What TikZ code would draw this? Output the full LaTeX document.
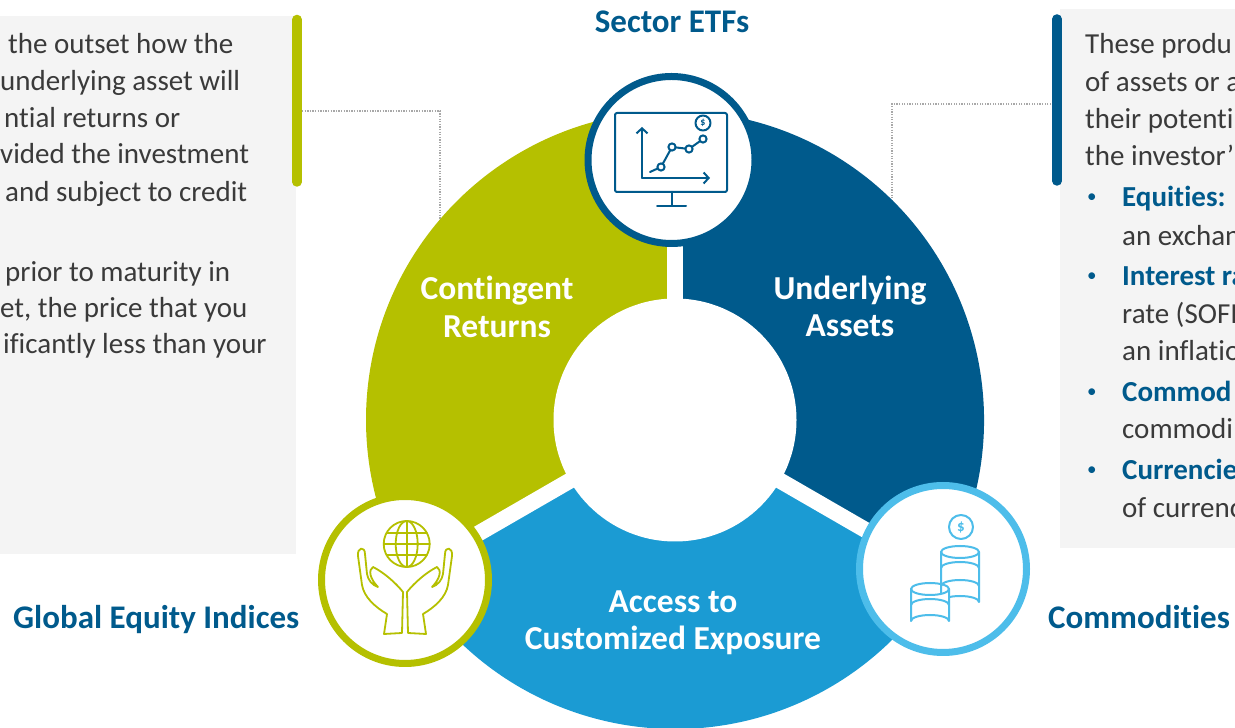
\documentclass[tikz,border=0pt]{standalone}
\usepackage{fontspec}
\setmainfont{Carlito}[Ligatures=NoCommon]
\usetikzlibrary{arrows.meta, positioning, calc}

\definecolor{ringGreen}{HTML}{B5C000}
\definecolor{ringNavy}{HTML}{005A8C}
\definecolor{ringBlue}{HTML}{1B9BD3}
\definecolor{coinBlue}{HTML}{4DBDEA}
\definecolor{boxGray}{HTML}{F4F4F4}
\definecolor{bodyGray}{HTML}{3A3A3A}
\definecolor{dotGray}{HTML}{A8A8A8}

\begin{document}
\begin{tikzpicture}[x=1pt, y=1pt,
    body/.style={anchor=base west, inner sep=0pt, text=bodyGray, font=\fontsize{29}{37}\selectfont},
    keyword/.style={body, text=ringNavy, font=\fontsize{29}{37}\selectfont\bfseries},
    seglabel/.style={anchor=base, inner sep=0pt, text=white, font=\fontsize{33.5}{40}\selectfont\bfseries},
    outlabel/.style={anchor=base, inner sep=0pt, text=ringNavy, font=\fontsize{33}{40}\selectfont\bfseries},
    badge/.style={circle, fill=white, line width=7pt, minimum size=167pt, inner sep=0pt},
    leader/.style={dotGray, line width=1.3pt, dash pattern=on 1.3pt off 1.3pt},
    sidebar/.style={line width=9.5pt, line cap=round},
    gap/.style={white, line width=16pt},
    glyph/.style={line width=2pt, line join=round, line cap=round}]

    \useasboundingbox (0,0) rectangle (1235,728);

    % side panels
    \fill[boxGray] (0,174) rectangle (296,712.3);
    \fill[boxGray] (1060,180) rectangle (1235,719);
    \draw[sidebar, ringGreen] (297,708.5) -- (297,546);
    \draw[sidebar, ringNavy] (1057,709) -- (1057,547);

    \foreach \y/\x/\t [count=\i] in {54/8/the outset how the, 91/0/underlying asset will,
        128/4/ntial returns or, 164/0/vided the investment, 202/5/and subject to credit,
        282/5/prior to maturity in, 318/0/{et, the price that you}, 354/3/ificantly less than your}
        \node[body] (lt\i) at (\x,{728-\y}) {\t};

    \foreach \y/\t [count=\i] in {54/These produ, 92/of assets or a, 129/their potenti, 166/the investor’}
        \node[body] (rt\i) at (1085,{728-\y}) {\t};
    \foreach \y/\t [count=\i] in {207/Equities:, 286/Interest ra, 402/Commod, 480/Currencie} {
        \node[body, text=ringNavy, font=\fontsize{19}{19}\selectfont] (dot\i) at (1087,{732-\y}) {•};
        \node[keyword] (kw\i) at (1122,{728-\y}) {\t};
    }
    \foreach \y/\t [count=\i] in {246/an exchan, 324/rate (SOFI, 361/an inflatio, 439/commodi, 518/of currenc}
        \node[body] (rc\i) at (1122,{728-\y}) {\t};

    % leaders
    \coordinate (lbar) at (302,617);
    \coordinate (lseg) at (440,508);
    \coordinate (rbar) at (1051,624);
    \coordinate (rseg) at (892,528);
    \draw[leader] (lbar) -| (lseg);
    \draw[leader] (rbar) -| (rseg);

    % ring
    \coordinate (hub) at (675,308);
    \fill[ringGreen] (hub) -- ++(90:309) arc[start angle=90, end angle=210, radius=309] -- cycle;
    \fill[ringNavy] (hub) -- ++(-30:309) arc[start angle=-30, end angle=90, radius=309] -- cycle;
    \fill[ringBlue] (hub) -- ++(210:309) arc[start angle=210, end angle=330, radius=309] -- cycle;
    \foreach \a in {90,210,330}
        \draw[gap] (hub) -- ++(\a:320);
    \fill[white] (hub) circle[radius=121.5];

    \node[seglabel] (cr1) at (497,428) {Contingent};
    \node[seglabel] (cr2) at (497,390) {Returns};
    \node[seglabel] (ua1) at (850,428) {Underlying};
    \node[seglabel] (ua2) at (850,391) {Assets};
    \node[seglabel] (ac1) at (673,115) {Access to};
    \node[seglabel] (ac2) at (673,78) {Customized Exposure};

    % badges
    \node[badge, draw=ringNavy] (etf) at (671.5,568) {};
    \node[badge, draw=ringGreen] (idx) at (405,148) {};
    \node[badge, draw=coinBlue] (cmd) at (943,159) {};

    \node[outlabel] (etflab) at (672,695) {Sector ETFs};
    \node[outlabel, anchor=base west] (idxlab) at (13,99) {Global Equity Indices};
    \node[outlabel, anchor=base west] (cmdlab) at (1048,99) {Commodities};

    % monitor
    \begin{scope}[shift={(etf.center)}, ringNavy, glyph]
        \draw[rounded corners=2pt] (-56.5,-32) rectangle (55.5,47);
        \draw (0.5,-32) -- (0.5,-45);
        \draw (-14.5,-46) -- (14.5,-46);
        \draw[-{Straight Barb[length=5pt, width=11pt]}] (-29.5,-18) -- (-29.5,33);
        \draw[-{Straight Barb[length=5pt, width=11pt]}] (-29.5,-18) -- (38.5,-18);
        \draw (-21.5,-12) -- (-10.5,-7) -- (0.5,13) -- (17.5,11) -- (31.5,21);
        \foreach \p in {(-10.5,-7), (0.5,13), (17.5,11), (31.5,21)}
            \draw[fill=white] \p circle[radius=3.6];
        \draw (31.5,37) circle[radius=7.5];
        \node[text=ringNavy, font=\fontsize{10}{10}\selectfont\bfseries] (etfcoin) at (31.5,37) {\$};
    \end{scope}

    % globe in hands
    \begin{scope}[shift={(idx.center)}, yscale=-1, ringGreen, glyph, line width=1.8pt]
        \draw (1.7,-36) circle[radius=23];
        \draw (1.7,-36) ellipse[x radius=11, y radius=23];
        \draw (1.7,-59) -- (1.7,-13);
        \draw (-21.3,-36) -- (24.7,-36);
        \draw (-18.5,-47) -- (21.9,-47);
        \draw (-18.5,-25) -- (21.9,-25);
        \foreach \s in {1,-1}
            \draw[xscale=\s] (-21,54) -- (-18,34) .. controls (-30,27) and (-41,17) .. (-43,5)
                -- (-47,-24) .. controls (-48,-33) and (-40,-34) .. (-40,-26)
                -- (-38,-6) .. controls (-37,0) and (-33,5) .. (-27,7)
                .. controls (-35,-1) and (-37,-10) .. (-32,-13)
                .. controls (-22,-8) and (-10,2) .. (-2,12) -- (-3,53) -- cycle;
    \end{scope}

    % coins
    \begin{scope}[shift={(cmd.center)}, yscale=-1, coinBlue, glyph]
        \draw (18,-42) circle[radius=12];
        \node[text=coinBlue, font=\fontsize{15}{15}\selectfont\bfseries] (cmdcoin) at (18,-42) {\$};
        \draw (17,-17) ellipse[x radius=19, y radius=6];
        \draw (-2,-17) -- (-2,33) arc[start angle=180, end angle=360, x radius=19, y radius=6] -- (36,-17);
        \draw (-2,-1) arc[start angle=180, end angle=360, x radius=19, y radius=6];
        \draw (-2,17) arc[start angle=180, end angle=360, x radius=19, y radius=6];
        \fill[white] (-32,20) -- (-32,52) arc[start angle=180, end angle=360, x radius=19, y radius=6] -- (6,20)
            arc[start angle=0, end angle=180, x radius=19, y radius=6];
        \draw (-13,20) ellipse[x radius=19, y radius=6];
        \draw (-32,20) -- (-32,52) arc[start angle=180, end angle=360, x radius=19, y radius=6] -- (6,20);
        \draw (-32,36) arc[start angle=180, end angle=360, x radius=19, y radius=6];
    \end{scope}
\end{tikzpicture}
\end{document}
